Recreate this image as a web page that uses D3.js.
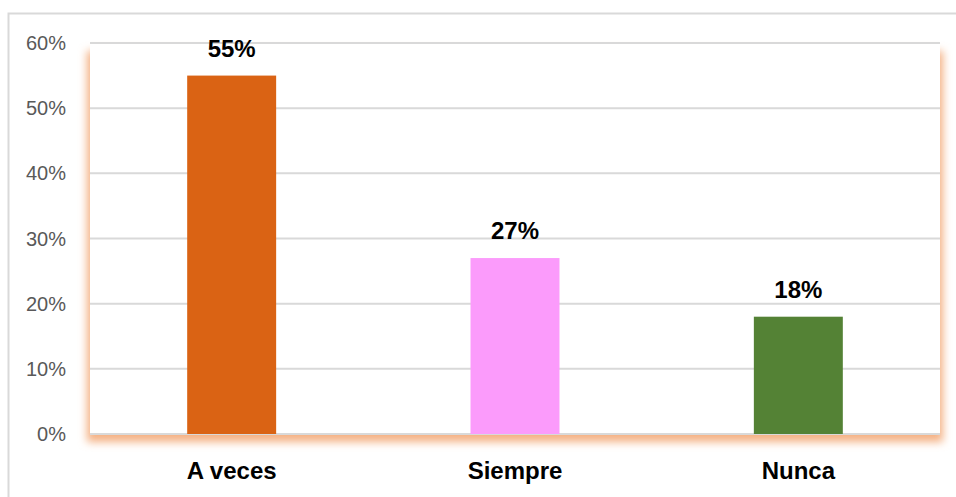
<html>
<head>
<script src="https://d3js.org/d3.v7.min.js"></script>
<style>
  body { margin: 0; background: #fff; }
  text { font-family: "Liberation Sans", Arial, sans-serif; }
</style>
</head>
<body>
<svg id="MAINSVG" width="956" height="497"></svg>
<script>
var categories = ["A veces", "Siempre", "Nunca"];
var values = [0.55, 0.27, 0.18];
var barColors = ["#DA6314", "#FB9BFB", "#548235"];
var yTicks = [0, 0.1, 0.2, 0.3, 0.4, 0.5, 0.6];

var SVG = d3.select("#MAINSVG");

var plot_left = 90, plot_right = 940, plot_top = 43, plot_bottom = 434;

var x = d3.scaleBand().domain(categories).range([plot_left, plot_right]).padding(0);
var y = d3.scaleLinear().domain([0, 0.6]).range([plot_bottom, plot_top]);
var barW = x.bandwidth() * 0.314;

// outer chart border (left and top visible)
SVG.append("rect")
   .attr("x", 8.5).attr("y", 13.5)
   .attr("width", 960).attr("height", 500)
   .attr("fill", "none")
   .attr("stroke", "#d9d9d9")
   .attr("stroke-width", 2);

// orange glow under plot area
var defs = SVG.append("defs");
var f = defs.append("filter").attr("id", "glow")
   .attr("x", "-10%").attr("y", "-10%").attr("width", "120%").attr("height", "130%");
f.append("feGaussianBlur").attr("stdDeviation", 4);

SVG.append("rect")
   .attr("x", plot_left - 3).attr("y", plot_top + 8)
   .attr("width", plot_right - plot_left + 6).attr("height", plot_bottom - plot_top)
   .attr("fill", "#F4B183")
   .attr("filter", "url(#glow)");

SVG.append("rect")
   .attr("x", plot_left).attr("y", plot_top)
   .attr("width", plot_right - plot_left).attr("height", plot_bottom - plot_top)
   .attr("fill", "#fff");

// gridlines
SVG.selectAll(".grid").data(yTicks).enter().append("line")
   .attr("class", "grid")
   .attr("x1", plot_left).attr("x2", plot_right)
   .attr("y1", d => y(d)).attr("y2", d => y(d))
   .attr("stroke", "#d9d9d9")
   .attr("stroke-width", 2);

// y axis labels
SVG.selectAll(".ylab").data(yTicks).enter().append("text")
   .attr("class", "ylab")
   .attr("x", 66)
   .attr("y", d => y(d))
   .attr("dy", "0.35em")
   .attr("text-anchor", "end")
   .attr("fill", "#595959")
   .style("font-size", "20px")
   .text(d => Math.round(d * 100) + "%");

// bars
SVG.selectAll(".bar").data(values).enter().append("rect")
   .attr("class", "bar")
   .attr("x", (d, i) => x(categories[i]) + x.bandwidth() / 2 - barW / 2)
   .attr("y", d => y(d))
   .attr("width", barW)
   .attr("height", d => plot_bottom - y(d))
   .attr("fill", (d, i) => barColors[i]);

// value labels
SVG.selectAll(".vlab").data(values).enter().append("text")
   .attr("class", "vlab")
   .attr("x", (d, i) => x(categories[i]) + x.bandwidth() / 2)
   .attr("y", d => y(d) - 19)
   .attr("text-anchor", "middle")
   .attr("font-weight", "bold")
   .style("font-size", "24px")
   .text(d => Math.round(d * 100) + "%");

// category labels
SVG.selectAll(".xlab").data(categories).enter().append("text")
   .attr("class", "xlab")
   .attr("x", d => x(d) + x.bandwidth() / 2)
   .attr("y", 479)
   .attr("text-anchor", "middle")
   .attr("font-weight", "bold")
   .style("font-size", "24px")
   .text(d => d);
</script>
</body>
</html>
